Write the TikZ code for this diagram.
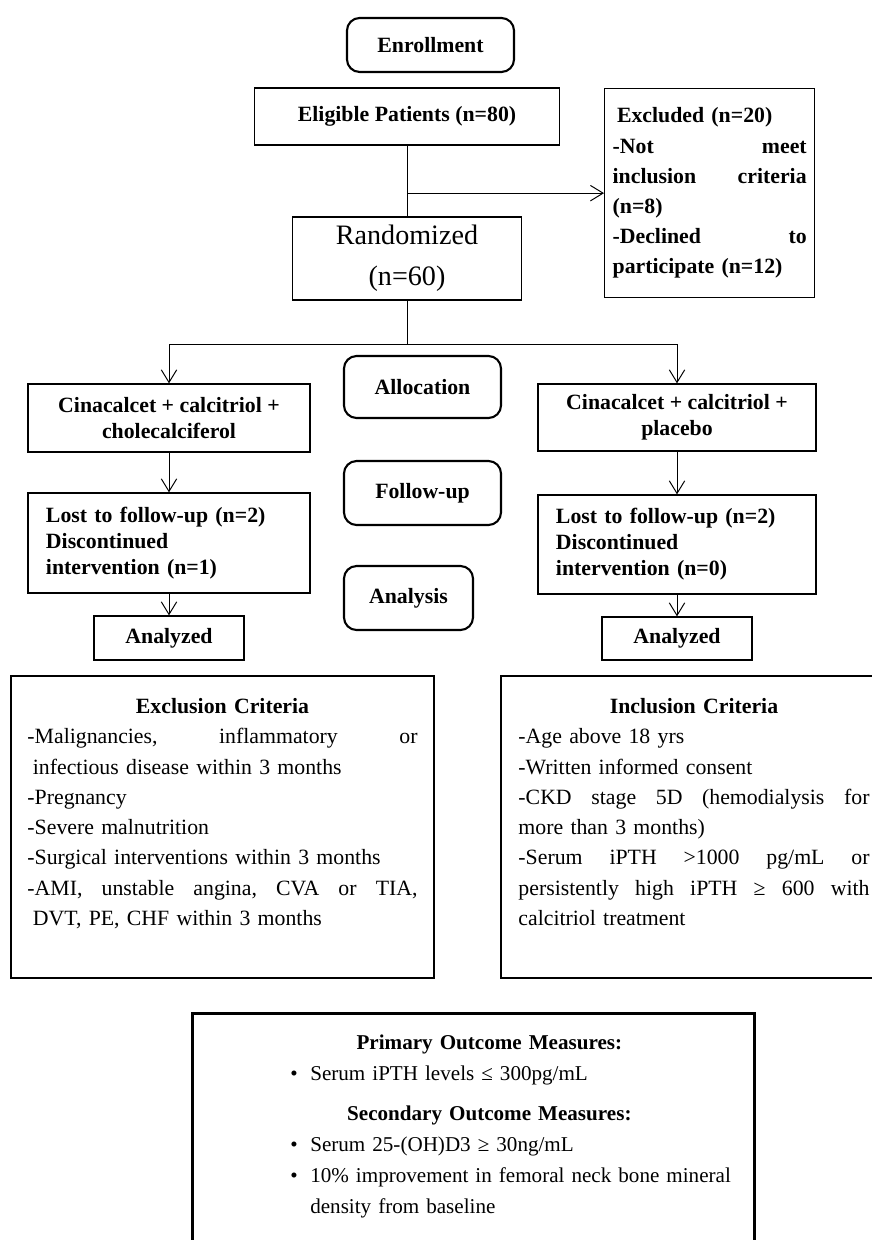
\documentclass[tikz,border=0pt]{standalone}
\usepackage{fontspec}
\setmainfont{Liberation Serif}
\usetikzlibrary{positioning,arrows.meta}
\newcommand{\boxfont}{\fontsize{15.5}{18.5}\selectfont}
\newcommand{\critfont}{\fontsize{15.5}{21.5}\selectfont}
\tikzset{
    stage/.style={draw, rounded corners=9pt, line width=1.5pt, font=\boxfont\bfseries, minimum width=3.925cm, minimum height=1.55cm},
    block/.style={draw, line width=0.9pt, font=\boxfont\bfseries, align=center, inner sep=0pt},
    critbox/.style={draw, line width=0.9pt, font=\critfont, align=left, inner sep=0pt, minimum height=7.55cm},
    >={Straight Barb[length=9pt,width=11pt]}
}

\begin{document}
\begin{tikzpicture}[x=0.025cm, y=-0.025cm, line width=0.7pt]
    \useasboundingbox (0,0) rectangle (872,1240);

    % enrollment
    \node[stage, minimum width=4.175cm, minimum height=1.35cm] (enroll) at (430.5,45) {Enrollment};
    \node[block, minimum width=7.625cm, minimum height=1.425cm] (elig) at (407,116.5) {Eligible Patients (n=80)};
    \node[block, anchor=north west, minimum width=5.25cm, minimum height=5.225cm, text width=4.85cm, align=left, font=\fontsize{15.5}{21.5}\selectfont\bfseries] (excl) at (604,88)
        {\hspace*{0.2em}Excluded (n=20)\\
         -Not\hfill meet\\
         inclusion\hfill criteria\\
         (n=8)\\
         -Declined\hfill to\\
         participate (n=12)};
    \node[block, minimum width=5.725cm, minimum height=2.075cm, font=\fontsize{20}{29}\selectfont] (rand) at (407,258.5) {Randomized\\(n=60)};

    % allocation
    \node[stage] (alloc) at (422.5,387) {Allocation};
    \node[block, minimum width=7.05cm, minimum height=1.7cm] (treatA) at (169,418) {Cinacalcet + calcitriol +\\cholecalciferol};
    \node[block, minimum width=6.95cm, minimum height=1.675cm] (treatB) at (677,417.5) {Cinacalcet + calcitriol +\\placebo};

    % follow-up
    \node[stage, minimum height=1.6cm] (follow) at (422.5,493) {Follow-up};
    \node[block, minimum width=7.05cm, minimum height=2.5cm, text width=6.15cm, align=left] (lostA) at (169,543)
        {Lost to follow-up (n=2)\\Discontinued\\intervention (n=1)};
    \node[block, minimum width=6.95cm, minimum height=2.475cm, text width=6.05cm, align=left] (lostB) at (677,544.5)
        {Lost to follow-up (n=2)\\Discontinued\\intervention (n=0)};

    % analysis
    \node[stage, minimum width=3.225cm, minimum height=1.6cm] (analysis) at (408.5,598) {Analysis};
    \node[block, minimum width=3.75cm, minimum height=1.1cm] (anaA) at (169,638) {Analyzed};
    \node[block, minimum width=3.75cm, minimum height=1.075cm] (anaB) at (677,638.5) {Analyzed};

    % criteria
    \node[critbox, minimum width=10.575cm, text width=9.75cm] (exclcrit) at (222.5,827)
        {\makebox[\linewidth]{\bfseries Exclusion Criteria}\\
         -Malignancies,\hfill inflammatory\hfill or\\
         \hspace*{0.25em}infectious disease within 3 months\\
         -Pregnancy\\
         -Severe malnutrition\\
         -Surgical interventions within 3 months\\
         -AMI,\hfill unstable\hfill angina,\hfill CVA\hfill or\hfill TIA,\\
         \hspace*{0.25em}DVT, PE, CHF within 3 months\\
         \mbox{}};
    \node[critbox, minimum width=9.65cm, text width=8.775cm] (inclcrit) at (694,827)
        {\makebox[\linewidth]{\bfseries Inclusion Criteria}\\
         -Age above 18 yrs\\
         -Written informed consent\\
         -CKD\hfill stage\hfill 5D\hfill (hemodialysis\hfill for\\
         more than 3 months)\\
         -Serum\hfill iPTH\hfill >1000\hfill pg/mL\hfill or\\
         persistently\hfill high\hfill iPTH\hfill ≥\hfill 600\hfill with\\
         calcitriol treatment\\
         \mbox{}};

    % outcomes
    \node[draw, line width=1.8pt, anchor=north west, minimum width=14.05cm, text width=14.05cm, inner xsep=0pt, inner ysep=0.55cm, align=left, font=\fontsize{15}{22}\selectfont] (outcome) at (191,1012)
        {\makebox[\linewidth]{\hspace*{0.8cm}\bfseries Primary Outcome Measures:}\\
         \hspace*{2.45cm}\makebox[0.5cm][l]{\textbullet}Serum iPTH levels ≤ 300pg/mL\\[6pt]
         \makebox[\linewidth]{\hspace*{0.8cm}\bfseries Secondary Outcome Measures:}\\
         \hspace*{2.45cm}\makebox[0.5cm][l]{\textbullet}Serum 25-(OH)D3 ≥ 30ng/mL\\
         \hspace*{2.45cm}\makebox[0.5cm][l]{\textbullet}10\% improvement in femoral neck bone mineral\\
         \hspace*{2.95cm}density from baseline\\[3cm]
         \mbox{}};

    \coordinate (branch) at (elig.south |- excl.west);
    \coordinate (fork) at (407,344);

    \draw (elig) -- (rand);
    \draw[->] (branch) -- (excl.west);
    \draw (rand) -- (fork);
    \draw[->] (fork) -| (treatA);
    \draw[->] (fork) -| (treatB);
    \draw[->] (treatA) -- (lostA);
    \draw[->] (treatB) -- (lostB);
    \draw[->] (lostA) -- (anaA);
    \draw[->] (lostB) -- (anaB);

\end{tikzpicture}
\end{document}
